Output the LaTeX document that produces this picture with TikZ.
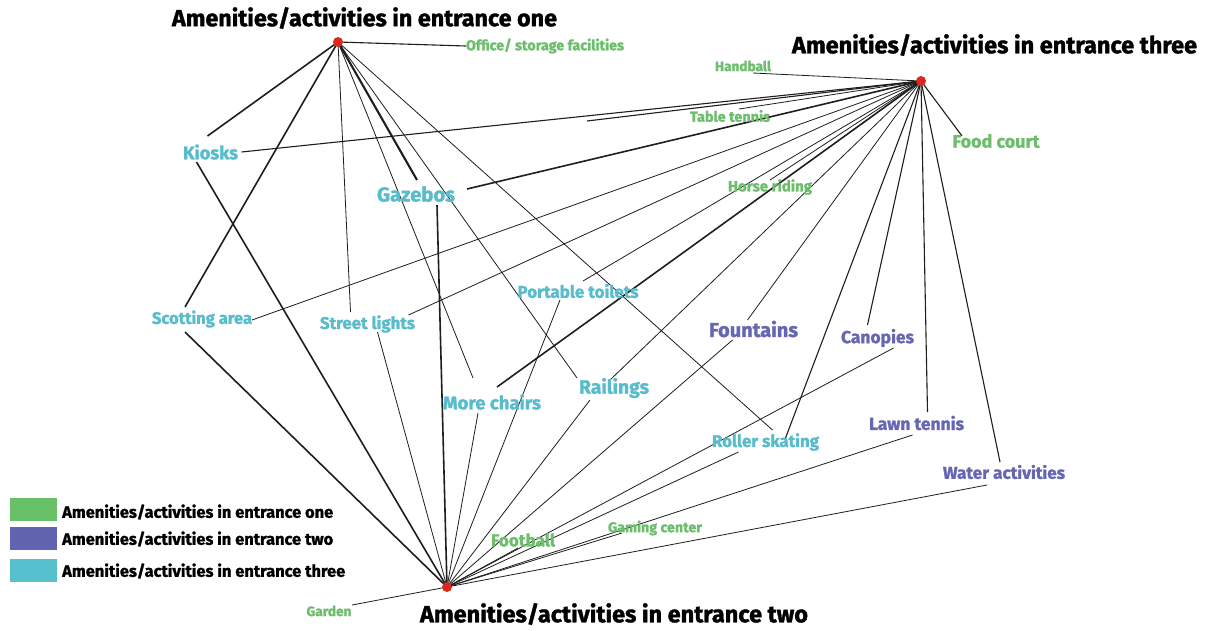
\documentclass[tikz,border=0pt]{standalone}
\usepackage{fontspec}
\setmainfont{Fira Sans}[BoldFeatures={FakeBold=1.4}]
\usetikzlibrary{calc,backgrounds}
\definecolor{grn}{RGB}{108,190,108}
\definecolor{cyn}{RGB}{88,188,204}
\definecolor{prp}{RGB}{102,102,178}
\definecolor{lgreen}{RGB}{104,192,104}
\definecolor{lblue}{RGB}{98,100,176}
\definecolor{lcyan}{RGB}{86,192,206}
\definecolor{hubred}{RGB}{222,40,30}
\definecolor{edgecol}{RGB}{30,30,30}
\newcommand\fw[2]{\resizebox{#1pt}{!}{\fontsize{20}{24}\selectfont #2}}
\begin{document}
\begin{tikzpicture}[x=1pt,y=-1pt,
  lbl/.style={inner sep=0pt,font=\bfseries},
  hub/.style={circle,fill=hubred,inner sep=0pt,minimum size=10pt},
  legbox/.style={inner sep=0pt,minimum width=47pt,minimum height=23pt},
  lnA/.style={draw=edgecol,line width=0.8pt},
  lnB/.style={draw=edgecol,line width=1.1pt},
  lnC/.style={draw=edgecol,line width=1.6pt}]
\useasboundingbox (0,0) rectangle (1206,630);
% titles
\node[lbl] (t1) at (364.5,18) {\fw{385}{Amenities/activities in entrance one}};
\node[lbl] (t3) at (994.5,45) {\fw{405}{Amenities/activities in entrance three}};
\node[lbl] (t2) at (614,614) {\fw{388}{Amenities/activities in entrance two}};
% entrance one (green)
\node[lbl,text=grn] (office) at (545,46) {\fw{158}{Office/ storage facilities}};
\node[lbl,text=grn] (handball) at (743,66) {\fw{56}{Handball}};
\node[lbl,text=grn] (tabletennis) at (730,116) {\fw{80}{Table tennis}};
\node[lbl,text=grn] (foodcourt) at (996,141) {\fw{87}{Food court}};
\node[lbl,text=grn] (horse) at (770,187) {\fw{84}{Horse riding}};
\node[lbl,text=grn] (football) at (523,540) {\fw{64}{Football}};
\node[lbl,text=grn] (gaming) at (655,528) {\fw{94}{Gaming center}};
\node[lbl,text=grn] (garden) at (329,611) {\fw{45}{Garden}};
% entrance three (cyan)
\node[lbl,text=cyn] (kiosks) at (210.5,152) {\fw{55}{Kiosks}};
\node[lbl,text=cyn] (gazebos) at (416,194) {\fw{78}{Gazebos}};
\node[lbl,text=cyn] (scotting) at (202,319) {\fw{100}{Scotting area}};
\node[lbl,text=cyn] (streetlights) at (367.5,324) {\fw{95}{Street lights}};
\node[lbl,text=cyn] (portable) at (578,291) {\fw{121}{Portable toilets}};
\node[lbl,text=cyn] (morechairs) at (492,402) {\fw{98}{More chairs}};
\node[lbl,text=cyn] (railings) at (614,388) {\fw{70}{Railings}};
\node[lbl,text=cyn] (roller) at (765.5,442) {\fw{107}{Roller skating}};
% entrance two (purple)
\node[lbl,text=prp] (fountains) at (753.5,329) {\fw{89}{Fountains}};
\node[lbl,text=prp] (canopies) at (877.5,338) {\fw{73}{Canopies}};
\node[lbl,text=prp] (lawntennis) at (916.5,423) {\fw{95}{Lawn tennis}};
\node[lbl,text=prp] (water) at (1004,472) {\fw{122}{Water activities}};
% legend
\node[legbox,fill=lgreen] (lb1) at (33.5,509.5) {};
\node[legbox,fill=lblue] (lb2) at (33.5,538) {};
\node[legbox,fill=lcyan] (lb3) at (33.5,570) {};
\node[lbl,anchor=west] (lt1) at (62,512) {\fw{271}{Amenities/activities in entrance one}};
\node[lbl,anchor=west] (lt2) at (62,539) {\fw{271}{Amenities/activities in entrance two}};
\node[lbl,anchor=west] (lt3) at (62,571) {\fw{283}{Amenities/activities in entrance three}};
% hubs
\node[hub] (e1) at (338,42) {};
\node[hub] (e3) at (921,81) {};
\node[hub] (e2) at (447,587) {};
\coordinate (stray) at (587,121);
\begin{pgfonlayer}{background}
\fill[white] (0,0) rectangle (1206,630);
% entrance one edges
\draw[lnB] (e1.center) -- (office.west);
\draw[lnC] (e1.center) -- ($(kiosks)+(-3,-16)$);
\draw[lnC] (e1.center) -- ($(scotting)+(-17,-12)$);
\draw[lnA] (e1.center) -- ($(streetlights)+(-17,-12)$);
\draw[lnC,line width=2.1pt] (e1.center) -- ($(gazebos)+(1,-14)$);
\draw[lnA] (e1.center) -- ($(morechairs)+(-19,-24)$);
\draw[lnA] (e1.center) -- ($(railings)+(-37,-10)$);
\draw[lnA] (e1.center) -- ($(roller)+(7,-12)$);
% entrance two edges
\draw[lnC] (e2.center) -- ($(kiosks)+(-14,10)$);
\draw[lnC] (e2.center) -- ($(scotting)+(-17,13)$);
\draw[lnA] (e2.center) -- ($(streetlights)+(10,8)$);
\draw[lnC] (e2.center) -- ($(gazebos)+(21,11)$);
\draw[lnA] (e2.center) -- ($(morechairs)+(-14,11)$);
\draw[lnA] (e2.center) -- ($(portable)+(-18,9)$);
\draw[lnA] (e2.center) -- ($(railings)+(-24,12)$);
\draw[lnA] (e2.center) -- ($(fountains)+(-21,11)$);
\draw[lnA] (e2.center) -- ($(canopies)+(16,10)$);
\draw[lnA] (e2.center) -- ($(roller)+(-27,10)$);
\draw[lnA] (e2.center) -- ($(lawntennis)+(-4,12)$);
\draw[lnA] (e2.center) -- ($(water)+(-17,13)$);
\draw[lnA] (e2.center) -- ($(football)+(-5,8)$);
\draw[lnA] (e2.center) -- ($(gaming)+(-33,5)$);
\draw[lnA] (e2.center) -- ($(garden)+(23,-6)$);
% entrance three edges
\draw[lnA] (e3.center) -- ($(handball)+(10,7)$);
\draw[lnA] (e3.center) -- ($(tabletennis)+(9,-7)$);
\draw[lnB] (e3.center) -- ($(foodcourt)+(-34,-5)$);
\draw[lnA] (e3.center) -- ($(horse)+(0,-7)$);
\draw[lnB] (e3.center) -- ($(kiosks)+(31,0)$);
\draw[lnB] (e3.center) -- (stray);
\draw[lnC] (e3.center) -- ($(gazebos)+(51,-5)$);
\draw[lnA] (e3.center) -- ($(scotting)+(50,1)$);
\draw[lnA] (e3.center) -- ($(streetlights)+(41,-9)$);
\draw[lnA] (e3.center) -- ($(portable)+(5,-10)$);
\draw[lnC] (e3.center) -- ($(morechairs)+(5,-15)$);
\draw[lnA] (e3.center) -- ($(railings)+(-4,-8)$);
\draw[lnA] (e3.center) -- ($(fountains)+(-6,-9)$);
\draw[lnB] (e3.center) -- ($(roller)+(20,-4)$);
\draw[lnB] (e3.center) -- ($(canopies)+(-10,-13)$);
\draw[lnB] (e3.center) -- ($(lawntennis)+(11,-11)$);
\draw[lnB] (e3.center) -- ($(water)+(-4,-10)$);
\end{pgfonlayer}
\end{tikzpicture}
\end{document}
